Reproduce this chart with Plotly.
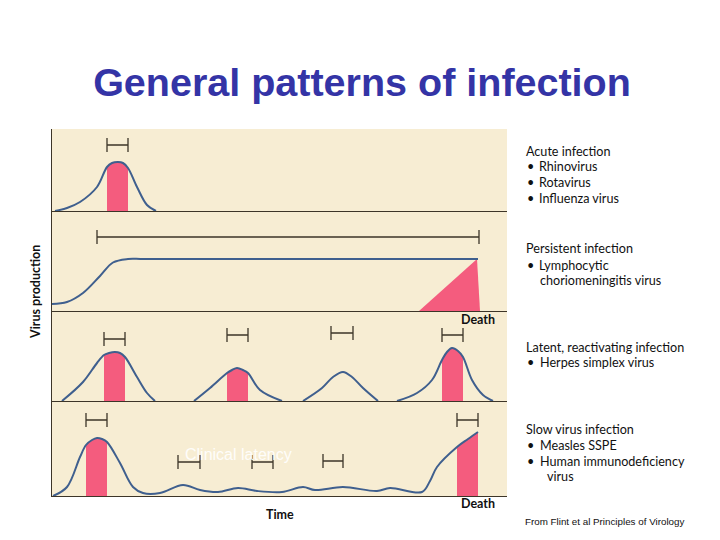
import plotly.graph_objects as go
from plotly.subplots import make_subplots

# ---------------- data (time in arbitrary units, virus production in arbitrary units) -------------
# Acute infection
acute_t = [3, 15, 28, 45, 55, 60, 66, 71, 76, 85, 95, 104]
acute_v = [0, 3, 9, 24, 44, 48, 49, 48, 43, 24, 6, 0]
acute_pink = [(55, 76)]
acute_br_start = [55]
acute_br_end = [76]
acute_br_level = [66]

# Persistent infection
pers_t = [0, 15, 31, 48, 61, 76, 92, 426]
pers_v = [7, 9, 18, 35, 48.5, 52, 52, 52]
pers_tri_t = [367, 425, 428]
pers_tri_v = [0, 52, 0]
pers_br_start = [45]
pers_br_end = [427]
pers_br_level = [74]

# Latent, reactivating infection (four episodes)
lat_t = [
    [10, 31, 45, 52, 57, 63, 68, 73, 85, 95, 103],
    [142, 158, 175, 180, 185, 191, 196, 208, 230],
    [251, 270, 281, 291, 300, 311, 326],
    [345, 365, 380, 390, 395, 400, 406, 411, 420, 431, 441],
]
lat_v = [
    [0, 19, 38, 46, 48, 49, 48, 44, 24, 8, 0],
    [0, 13, 28, 31, 33, 31, 28, 11, 0],
    [0, 13, 24, 29, 24, 13, 0],
    [0, 8, 21, 41, 49, 53, 50, 44, 21, 6, 0],
]
lat_pink = [(52, 73), (175, 196), None, (390, 411)]
lat_br_start = [52, 175, 279, 390]
lat_br_end = [73, 196, 301, 411]
lat_br_level = [62, 66, 68, 66]

# Slow virus infection
slow_t = [1, 15, 28, 34, 40, 45, 50, 55, 68, 81, 91, 108, 131, 148, 166, 186, 205,
          230, 251, 263, 291, 325, 338, 370, 378, 385, 405, 416, 426]
slow_v = [0, 9, 39, 51, 56, 58, 57, 54, 33, 9, 3, 3, 11, 6, 4, 8, 5,
          4, 9, 6, 9, 5, 8, 4, 15, 29, 49, 57, 64]
slow_pink = [(34, 55), (405, 426)]
slow_br_start = [34, 126, 200, 271, 405]
slow_br_end = [55, 148, 221, 291, 426]
slow_br_level = [76, 34, 34, 35, 76]

panel_heights = [82, 100, 90, 95]   # y-range of each panel
t_range = [0, 455]

# ---------------- styles -------------
BG = "#F7EDD3"
PINK = "#F45C7E"
CURVE = "#3F5F8E"
INK = "#3D3528"
TITLE_BLUE = "#3434A6"

OFF = 8                      # page margin of the browser
W, H = 720 - OFF, 540 - OFF
L, T = 52 - OFF, 129 - OFF
R, B = 720 - 507, 540 - 496


def px_x(X):
    return (X - OFF - L) / (W - L - R)


def px_y(Y):
    return (H - B - (Y - OFF)) / (H - T - B)


fig = make_subplots(rows=4, cols=1, shared_xaxes=True, vertical_spacing=0,
                    row_heights=panel_heights)


def add_fill(row, t, v, t0, t1):
    ft = [a for a, b in zip(t, v) if t0 <= a <= t1]
    fv = [b for a, b in zip(t, v) if t0 <= a <= t1]
    fig.add_trace(go.Scatter(x=ft, y=fv, mode="lines", line=dict(width=0, color=PINK, shape="spline"),
                             fill="tozeroy", fillcolor=PINK, hoverinfo="skip", showlegend=False),
                  row=row, col=1)


def add_curve(row, t, v):
    fig.add_trace(go.Scatter(x=t, y=v, mode="lines",
                             line=dict(width=2, color=CURVE, shape="spline", smoothing=1),
                             hoverinfo="skip", showlegend=False), row=row, col=1)


def add_brackets(row, s, e, lvl):
    c = [(a + b) / 2 for a, b in zip(s, e)]
    half = [(b - a) / 2 for a, b in zip(s, e)]
    fig.add_trace(go.Scatter(x=c, y=lvl, mode="markers",
                             marker=dict(size=1, color="rgba(0,0,0,0)"),
                             error_x=dict(type="data", array=half, symmetric=True,
                                          width=7, thickness=1.3, color=INK),
                             hoverinfo="skip", showlegend=False), row=row, col=1)


# Row 1: acute
for t0, t1 in acute_pink:
    add_fill(1, acute_t, acute_v, t0, t1)
add_curve(1, acute_t, acute_v)
add_brackets(1, acute_br_start, acute_br_end, acute_br_level)

# Row 2: persistent
fig.add_trace(go.Scatter(x=pers_tri_t, y=pers_tri_v, mode="lines", fill="toself",
                         fillcolor=PINK, line=dict(width=0, color=PINK),
                         hoverinfo="skip", showlegend=False), row=2, col=1)
add_curve(2, pers_t, pers_v)
add_brackets(2, pers_br_start, pers_br_end, pers_br_level)

# Row 3: latent
for t, v, p in zip(lat_t, lat_v, lat_pink):
    if p:
        add_fill(3, t, v, p[0], p[1])
for t, v in zip(lat_t, lat_v):
    add_curve(3, t, v)
add_brackets(3, lat_br_start, lat_br_end, lat_br_level)

# Row 4: slow
for t0, t1 in slow_pink:
    add_fill(4, slow_t, slow_v, t0, t1)
add_curve(4, slow_t, slow_v)
add_brackets(4, slow_br_start, slow_br_end, slow_br_level)

fig.update_xaxes(range=t_range, showline=True, linecolor=INK, linewidth=1.4,
                 showgrid=False, zeroline=False, showticklabels=False, ticks="")
for i, h in enumerate(panel_heights, start=1):
    fig.update_yaxes(range=[0, h], showline=True, linecolor=INK, linewidth=1.4,
                     showgrid=False, zeroline=False, showticklabels=False, ticks="",
                     row=i, col=1)

ann = []
TXT = dict(family="Lato, Open Sans, sans-serif", size=12.6, color="#111111")
TXTB = dict(family="Lato, Open Sans, sans-serif", size=12.5, color="#111111", weight="bold")


def text(s, X, Y, font, xanchor="left", textangle=0):
    ann.append(dict(text=s, x=px_x(X), y=px_y(Y), xref="paper", yref="paper",
                    xanchor=xanchor, yanchor="middle", showarrow=False, font=font,
                    textangle=textangle))


right_lines = [
    ("Acute infection", 524, 151), ("•", 525, 166), ("Rhinovirus", 537, 166),
    ("•", 525, 182), ("Rotavirus", 537, 182), ("•", 525, 198), ("Influenza virus", 537, 198),
    ("Persistent infection", 524, 248), ("•", 525, 265), ("Lymphocytic", 537, 265),
    ("choriomeningitis virus", 538, 280),
    ("Latent, reactivating infection", 524, 347), ("•", 525, 362), ("Herpes simplex virus", 538, 362),
    ("Slow virus infection", 524, 429), ("•", 525, 445), ("Measles SSPE", 538, 445),
    ("•", 525, 461), ("Human immunodeficiency", 538, 461), ("virus", 545, 476),
]
for s, X, Y in right_lines:
    text(s, X, Y, TXT)

text("Death", 478, 319, TXTB, xanchor="center")
text("Death", 478, 503, TXTB, xanchor="center")
text("Time", 280, 514, TXTB, xanchor="center")
text("Virus production", 35, 292, TXTB, xanchor="center", textangle=-90)
text("Clinical latency", 238, 454,
     dict(family="Liberation Sans, Arial, sans-serif", size=16, color="rgba(255,255,255,0.92)"),
     xanchor="center")
text("From Flint et al Principles of Virology", 523, 521,
     dict(family="Liberation Sans, Arial, sans-serif", size=9.8, color="#111111"))

fig.update_layout(
    width=W, height=H,
    margin=dict(l=L, r=R, t=T, b=B),
    paper_bgcolor="white", plot_bgcolor=BG,
    showlegend=False,
    title=dict(text="<b>General patterns of infection</b>", x=(362 - OFF) / W, xref="container",
               y=1 - (82 - OFF) / H, yref="container", xanchor="center", yanchor="middle",
               font=dict(family="Liberation Sans, Arial, sans-serif", size=39.5, color=TITLE_BLUE)),
    annotations=ann,
)

fig.write_html("out.html")
